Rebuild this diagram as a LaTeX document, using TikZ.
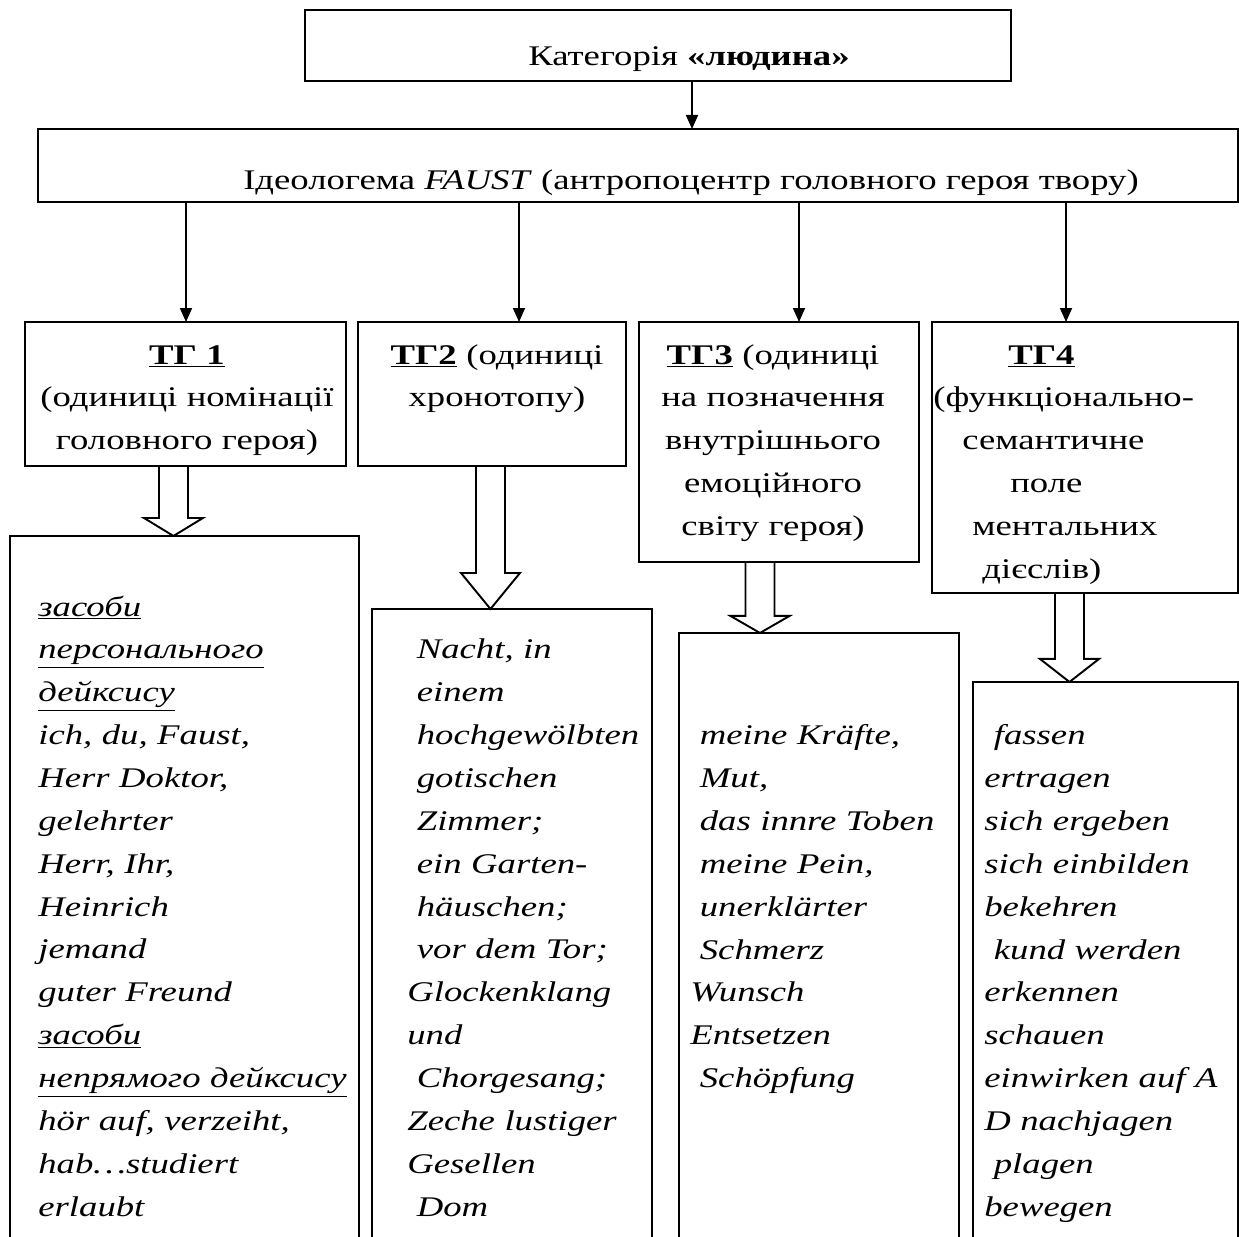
\documentclass[tikz,border=0pt]{standalone}
\usepackage{fontspec}
\setmainfont{Liberation Serif}[FakeStretch=1.29]
\usepackage{tikz}
\usetikzlibrary{arrows.meta}
\usetikzlibrary{calc}
\tikzset{
box/.style={draw, line width=1.1pt, inner sep=0pt, outer sep=0pt, anchor=north west},
txt/.style={inner sep=0pt, font=\fontsize{16.2}{24.4}\selectfont},
arr/.style={line width=1pt, -{Triangle[length=0.28cm, width=0.24cm]}},
pics/hollow arrow/.style 2 args={code={
    \draw[line width=1.1pt] (-14.5,0) -- (-14.5,#1) -- (-29.5,#1) -- (0,{#1+#2}) -- (29.5,#1) -- (14.5,#1) -- (14.5,0);
}}
}

\begin{document}
\begin{tikzpicture}[x=0.02cm, y=-0.02cm]
    \useasboundingbox (0,0) rectangle (1239,1236);
    \clip (0,0) rectangle (1239,1236);

                \node[box, minimum width=14.12cm, minimum height=1.42cm] (kat) at (305,10) {};
                \node[box, minimum width=24cm, minimum height=1.46cm] (ideo) at (38,129) {};
                \node[box, minimum width=6.42cm, minimum height=2.88cm] (tg1) at (25,322) {};
                \node[box, minimum width=5.36cm, minimum height=2.88cm] (tg2) at (358,322) {};
                \node[box, minimum width=5.6cm, minimum height=4.8cm] (tg3) at (639,322) {};
                \node[box, minimum width=6.12cm, minimum height=5.42cm] (tg4) at (932,322) {};
                \node[box, minimum width=6.98cm, minimum height=14.28cm] (lst1) at (10,536) {};
                \node[box, minimum width=5.6cm, minimum height=12.82cm] (lst2) at (372,609) {};
                \node[box, minimum width=5.6cm, minimum height=12.34cm] (lst3) at (679,633) {};
                \node[box, minimum width=5.3cm, minimum height=11.36cm] (lst4) at (973,682) {};

                \node[txt, anchor=base] (katT) at (689,66) {Категорія \textbf{«людина»}};
                \node[txt, anchor=base] (ideoT) at (691,190) {Ідеологема \textit{FAUST} (антропоцентр головного героя твору)};

                \node[txt, anchor=base, text width=6.4cm, align=center] (tg1T) at (187,364)
                    {\underline{\textbf{ТГ 1}}\\(одиниці номінації\\головного героя)};
                \node[txt, anchor=base, text width=5.3cm, align=center] (tg2T) at (497,364)
                    {\underline{\textbf{ТГ2}} (одиниці\\хронотопу)};
                \node[txt, anchor=base, text width=5.5cm, align=center] (tg3T) at (773,364)
                    {\underline{\textbf{ТГ3}} (одиниці\\на позначення\\внутрішнього\\емоційного\\світу героя)};
                \node[txt, anchor=base west, text width=6cm, align=left] (tg4T) at (933,364)
                    {\hspace*{1.5cm}\underline{\textbf{ТГ4}}\\(функціонально-\\\hspace*{0.58cm}семантичне\\\hspace*{1.54cm}поле\\\hspace*{0.78cm}ментальних\\\hspace*{0.98cm}дієслів)};

                \node[txt, anchor=base west, text width=6.8cm, align=left, font=\fontsize{16.2}{24.4}\selectfont\itshape] (lst1T) at (38,616)
                    {\underline{засоби}\\\underline{персонального}\\\underline{дейксису}\\ich, du, Faust,\\Herr Doktor,\\gelehrter\\Herr, Ihr,\\Heinrich\\jemand\\guter Freund\\\underline{засоби}\\\underline{непрямого дейксису}\\hör auf, verzeiht,\\hab…studiert\\erlaubt};
                \node[txt, anchor=base west, text width=5cm, align=left, font=\fontsize{16.2}{24.4}\selectfont\itshape] (lst2T) at (407,658.9)
                    {~Nacht, in\\~einem\\~hochgewölbten\\~gotischen\\~Zimmer;\\~ein Garten-\\~häuschen;\\~vor dem Tor;\\Glockenklang\\und\\~Chorgesang;\\Zeche lustiger\\Gesellen\\~Dom};
                \node[txt, anchor=base west, text width=5cm, align=left, font=\fontsize{16.2}{24.4}\selectfont\itshape] (lst3T) at (690,744.7)
                    {~meine Kräfte,\\~Mut,\\~das innre Toben\\~meine Pein,\\~unerklärter\\~Schmerz\\Wunsch\\Entsetzen\\~Schöpfung};
                \node[txt, anchor=base west, text width=5cm, align=left, font=\fontsize{16.2}{24.4}\selectfont\itshape] (lst4T) at (984,744.7)
                    {~fassen\\ertragen\\sich ergeben\\sich einbilden\\bekehren\\~kund werden\\erkennen\\schauen\\einwirken auf A\\D nachjagen\\~plagen\\bewegen};

                \coordinate (a0) at (692,0);
                \coordinate (a1) at (186,0);
                \coordinate (a2) at (519,0);
                \coordinate (a3) at (799,0);
                \coordinate (a4) at (1066,0);

                \draw[arr] (kat.south -| a0) -- (ideo.north -| a0);
                \draw[arr] (ideo.south -| a1) -- (tg1.north -| a1);
                \draw[arr] (ideo.south -| a2) -- (tg2.north -| a2);
                \draw[arr] (ideo.south -| a3) -- (tg3.north -| a3);
                \draw[arr] (ideo.south -| a4) -- (tg4.north -| a4);

                \pic at ($(tg1.south)+(-12,0)$) {hollow arrow={52}{18}};
                \pic at ($(tg2.south)+(-1.5,0)$) {hollow arrow={107}{36}};
                \pic at ($(tg3.south)+(-19,0)$) {hollow arrow={54}{17}};
                \pic at ($(tg4.south)+(-15.5,0)$) {hollow arrow={66}{23}};

            \end{tikzpicture}
\end{document}
